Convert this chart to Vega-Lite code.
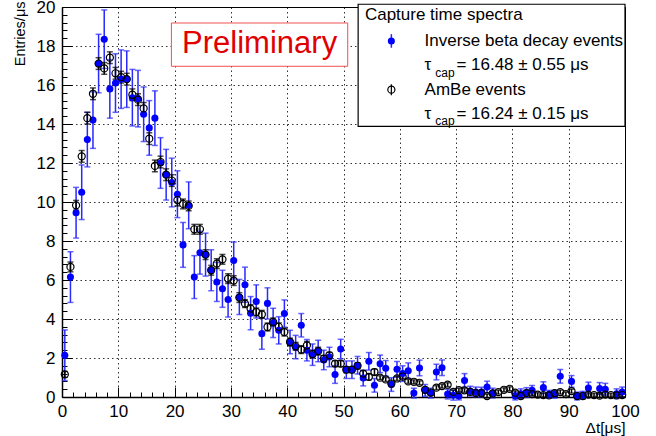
{
  "$schema": "https://vega.github.io/schema/vega-lite/v6.json",
  "width": 563,
  "height": 390,
  "autosize": {"type": "none"},
  "padding": {"left": 62, "top": 7, "right": 31, "bottom": 39},
  "background": "white",
  "config": {
    "view": {"stroke": "#000", "strokeWidth": 1},
    "axis": {"labelFont": "Liberation Sans", "titleFont": "Liberation Sans", "labelColor": "#000", "titleColor": "#000", "titleFontWeight": "normal", "tickColor": "#000", "domainColor": "#000"}
  },
  "resolve": {"axis": {"x": "independent", "y": "independent"}},
  "datasets": {
    "ibd": [
      {"t":0.5,"v":2.14,"e":1.3},{"t":1.5,"v":6.15,"e":1.3},{"t":2.5,"v":9.45,"e":1.3},{"t":3.5,"v":10.5,"e":1.4},
      {"t":4.5,"v":13.2,"e":1.4},{"t":5.5,"v":14.2,"e":1.45},{"t":6.5,"v":17.1,"e":1.5},{"t":7.5,"v":18.35,"e":1.5},
      {"t":8.5,"v":15.8,"e":1.5},{"t":9.5,"v":16.1,"e":1.5},{"t":10.5,"v":16.3,"e":1.5},{"t":11.5,"v":16.3,"e":1.45},
      {"t":12.5,"v":15.35,"e":1.45},{"t":13.5,"v":15.3,"e":1.45},{"t":14.5,"v":14.5,"e":1.4},{"t":15.5,"v":13.8,"e":1.4},
      {"t":16.5,"v":14.3,"e":1.4},{"t":17.5,"v":12.0,"e":1.3},{"t":18.5,"v":11.4,"e":1.3},{"t":19.5,"v":11.0,"e":1.25},
      {"t":20.5,"v":10.4,"e":1.2},{"t":21.5,"v":7.8,"e":1.15},{"t":22.5,"v":9.83,"e":1.2},{"t":23.5,"v":6.15,"e":1.1},
      {"t":24.5,"v":7.4,"e":1.1},{"t":25.5,"v":7.3,"e":1.1},{"t":26.5,"v":6.5,"e":1.05},{"t":27.5,"v":5.9,"e":1.0},
      {"t":28.5,"v":5.55,"e":0.95},{"t":29.5,"v":5.0,"e":0.9},{"t":30.5,"v":7.0,"e":0.95},{"t":31.5,"v":5.13,"e":0.9},
      {"t":32.5,"v":5.76,"e":0.9},{"t":33.5,"v":4.3,"e":0.85},{"t":34.5,"v":4.9,"e":0.85},{"t":35.5,"v":3.25,"e":0.8},
      {"t":36.5,"v":4.8,"e":0.8},{"t":37.5,"v":3.8,"e":0.75},{"t":38.5,"v":3.42,"e":0.7},{"t":39.5,"v":4.28,"e":0.7},
      {"t":40.5,"v":2.82,"e":0.6},{"t":41.5,"v":2.56,"e":0.6},{"t":42.5,"v":3.68,"e":0.6},{"t":43.5,"v":2.4,"e":0.55},
      {"t":44.5,"v":2.17,"e":0.55},{"t":45.5,"v":2.36,"e":0.55},{"t":46.5,"v":1.9,"e":0.5},{"t":47.5,"v":2.05,"e":0.5},
      {"t":48.5,"v":1.15,"e":0.45},{"t":49.5,"v":2.46,"e":0.5},{"t":50.5,"v":1.4,"e":0.45},{"t":51.5,"v":1.4,"e":0.45},
      {"t":52.5,"v":1.63,"e":0.45},{"t":53.5,"v":0.97,"e":0.4},{"t":54.5,"v":1.83,"e":0.45},{"t":55.5,"v":0.6,"e":0.35},
      {"t":56.5,"v":1.7,"e":0.45},{"t":57.5,"v":1.47,"e":0.4},{"t":58.5,"v":0.64,"e":0.35},{"t":59.5,"v":1.42,"e":0.4},
      {"t":60.5,"v":1.2,"e":0.4},{"t":61.5,"v":1.35,"e":0.4},{"t":62.5,"v":0.2,"e":0.25},{"t":63.5,"v":1.49,"e":0.4},
      {"t":64.5,"v":0.34,"e":0.3},{"t":65.5,"v":0.2,"e":0.25},{"t":66.5,"v":1.28,"e":0.4},{"t":67.5,"v":1.5,"e":0.4},
      {"t":68.5,"v":0.15,"e":0.25},{"t":69.5,"v":0.09,"e":0.25},{"t":70.5,"v":0.05,"e":0.2},{"t":71.5,"v":0.85,"e":0.35},
      {"t":72.5,"v":0.3,"e":0.25},{"t":73.5,"v":0.26,"e":0.25},{"t":74.5,"v":0.25,"e":0.25},{"t":75.5,"v":0.51,"e":0.3},
      {"t":76.5,"v":0.2,"e":0.25},{"t":80.5,"v":0.05,"e":0.2},{"t":81.5,"v":0.17,"e":0.25},{"t":82.5,"v":0.23,"e":0.25},
      {"t":83.5,"v":0.34,"e":0.25},{"t":85.5,"v":0.48,"e":0.3},{"t":86.5,"v":0.14,"e":0.2},{"t":87.5,"v":0.14,"e":0.2},
      {"t":88.5,"v":1.06,"e":0.35},{"t":90.5,"v":0.8,"e":0.3},{"t":91.5,"v":0.05,"e":0.2},{"t":92.5,"v":0.09,"e":0.2},
      {"t":93.5,"v":0.46,"e":0.3},{"t":95.5,"v":0.44,"e":0.3},{"t":96.5,"v":0.4,"e":0.3},{"t":98.5,"v":0.17,"e":0.25},
      {"t":99.5,"v":0.26,"e":0.25}
    ],
    "ambe": [
      {"t":0.5,"v":1.16,"e":0.15},{"t":1.5,"v":6.67,"e":0.25},{"t":2.5,"v":9.83,"e":0.25},{"t":3.5,"v":12.34,"e":0.3},
      {"t":4.5,"v":14.3,"e":0.3},{"t":5.5,"v":15.55,"e":0.3},{"t":6.5,"v":17.1,"e":0.3},{"t":7.5,"v":16.85,"e":0.3},
      {"t":8.5,"v":17.4,"e":0.3},{"t":9.5,"v":16.6,"e":0.3},{"t":10.5,"v":16.4,"e":0.3},{"t":11.5,"v":16.3,"e":0.3},
      {"t":12.5,"v":15.5,"e":0.3},{"t":13.5,"v":15.25,"e":0.3},{"t":14.5,"v":14.8,"e":0.3},{"t":15.5,"v":13.25,"e":0.3},
      {"t":16.5,"v":11.85,"e":0.3},{"t":17.5,"v":12.05,"e":0.3},{"t":18.5,"v":11.4,"e":0.3},{"t":19.5,"v":11.1,"e":0.3},
      {"t":20.5,"v":10.1,"e":0.3},{"t":21.5,"v":9.9,"e":0.25},{"t":22.5,"v":9.8,"e":0.25},{"t":23.5,"v":8.6,"e":0.25},
      {"t":24.5,"v":8.6,"e":0.25},{"t":25.5,"v":7.3,"e":0.25},{"t":26.5,"v":6.5,"e":0.25},{"t":27.5,"v":6.84,"e":0.25},
      {"t":28.5,"v":7.06,"e":0.25},{"t":29.5,"v":6.07,"e":0.25},{"t":30.5,"v":5.97,"e":0.25},{"t":31.5,"v":5.1,"e":0.25},
      {"t":32.5,"v":4.79,"e":0.2},{"t":33.5,"v":4.53,"e":0.2},{"t":34.5,"v":4.36,"e":0.2},{"t":35.5,"v":4.24,"e":0.2},
      {"t":36.5,"v":3.59,"e":0.2},{"t":37.5,"v":3.85,"e":0.2},{"t":38.5,"v":3.6,"e":0.2},{"t":39.5,"v":3.33,"e":0.2},
      {"t":40.5,"v":2.82,"e":0.2},{"t":41.5,"v":2.6,"e":0.2},{"t":42.5,"v":2.43,"e":0.2},{"t":43.5,"v":2.65,"e":0.2},
      {"t":44.5,"v":2.2,"e":0.2},{"t":45.5,"v":2.35,"e":0.2},{"t":46.5,"v":1.97,"e":0.15},{"t":47.5,"v":2.14,"e":0.15},
      {"t":48.5,"v":1.71,"e":0.15},{"t":49.5,"v":1.71,"e":0.15},{"t":50.5,"v":1.4,"e":0.15},{"t":51.5,"v":1.4,"e":0.15},
      {"t":52.5,"v":1.6,"e":0.15},{"t":53.5,"v":1.2,"e":0.15},{"t":54.5,"v":1.03,"e":0.15},{"t":55.5,"v":1.28,"e":0.15},
      {"t":56.5,"v":0.99,"e":0.1},{"t":57.5,"v":0.9,"e":0.1},{"t":58.5,"v":0.69,"e":0.1},{"t":59.5,"v":0.95,"e":0.1},
      {"t":60.5,"v":1.05,"e":0.1},{"t":61.5,"v":0.8,"e":0.1},{"t":62.5,"v":0.78,"e":0.1},{"t":63.5,"v":0.73,"e":0.1},
      {"t":64.5,"v":0.37,"e":0.1},{"t":65.5,"v":0.23,"e":0.1},{"t":66.5,"v":0.48,"e":0.1},{"t":67.5,"v":0.56,"e":0.1},
      {"t":68.5,"v":0.63,"e":0.1},{"t":69.5,"v":0.26,"e":0.1},{"t":70.5,"v":0.35,"e":0.1},{"t":71.5,"v":0.34,"e":0.1},
      {"t":72.5,"v":0.26,"e":0.1},{"t":73.5,"v":0.2,"e":0.1},{"t":74.5,"v":0.2,"e":0.1},{"t":75.5,"v":0.05,"e":0.1},
      {"t":76.5,"v":0.18,"e":0.1},{"t":77.5,"v":0.25,"e":0.1},{"t":78.5,"v":0.37,"e":0.1},{"t":79.5,"v":0.42,"e":0.1},
      {"t":80.5,"v":0.22,"e":0.1},{"t":81.5,"v":0.05,"e":0.1},{"t":82.5,"v":0.2,"e":0.1},{"t":83.5,"v":0.15,"e":0.1},
      {"t":84.5,"v":0.12,"e":0.1},{"t":85.5,"v":0.1,"e":0.1},{"t":86.5,"v":0.08,"e":0.1},{"t":87.5,"v":0.2,"e":0.1},
      {"t":88.5,"v":0.25,"e":0.1},{"t":89.5,"v":0.15,"e":0.1},{"t":90.5,"v":0.3,"e":0.1},{"t":91.5,"v":0.05,"e":0.1},
      {"t":92.5,"v":0.05,"e":0.1},{"t":93.5,"v":0.12,"e":0.1},{"t":94.5,"v":0.1,"e":0.1},{"t":95.5,"v":0.07,"e":0.1},
      {"t":96.5,"v":0.12,"e":0.1},{"t":97.5,"v":0.1,"e":0.1},{"t":98.5,"v":0.08,"e":0.1},{"t":99.5,"v":0.1,"e":0.1}
    ],
    "legbox": [{"t":52.6,"t2":100,"v":13.88,"v2":20.14}],
    "prelbox": [{"t":19.43,"t2":50.75,"v":16.96,"v2":19.18}],
    "prel": [{"t":35.1,"v":18.09,"label":"Preliminary"}],
    "legtext": [
      {"t":53.8,"v":19.57,"label":"Capture time spectra"},
      {"t":64.4,"v":18.26,"label":"Inverse beta decay events"},
      {"t":64.4,"v":17.01,"label":"τ"},
      {"t":70.05,"v":17.01,"label":"= 16.48 ± 0.55 μs"},
      {"t":64.4,"v":15.76,"label":"AmBe events"},
      {"t":64.4,"v":14.53,"label":"τ"},
      {"t":70.05,"v":14.53,"label":"= 16.24 ± 0.15 μs"}
    ],
    "legsub": [
      {"t":66.3,"v":16.62,"label":"cap"},
      {"t":66.3,"v":14.14,"label":"cap"}
    ],
    "legblue": [{"t":58.5,"v":18.26,"e":0.35}],
    "legblack": [{"t":58.5,"v":15.76,"e":0.28}]
  },
  "layer": [
    {
      "data": {"name": "ibd"},
      "mark": {"type": "errorbar", "ticks": true, "size": 6, "thickness": 1.5, "color": "#2828ff"},
      "encoding": {
        "x": {"field": "t", "type": "quantitative", "scale": {"domain": [0, 100], "nice": false, "zero": false},
          "axis": {"orient": "bottom", "values": [0,10,20,30,40,50,60,70,80,90,100], "ticks": false, "grid": true, "gridDash": [1.5, 3], "gridColor": "#000", "gridOpacity": 0.8, "domain": true, "domainWidth": 1.5, "labelFontSize": 17, "labelPadding": 6, "labelFlush": false, "labelOverlap": false, "title": "Δt[μs]", "titleFontSize": 15.5, "titleX": 563, "titleY": 30, "titleAlign": "right", "titleBaseline": "middle"}},
        "y": {"field": "v", "type": "quantitative", "scale": {"domain": [0, 20], "nice": false, "zero": false},
          "axis": {"orient": "left", "values": [0,2,4,6,8,10,12,14,16,18,20], "ticks": false, "grid": true, "gridDash": [1.5, 3], "gridColor": "#000", "gridOpacity": 0.8, "domain": true, "domainWidth": 1.5, "labelFontSize": 17, "labelPadding": 7, "labelFlush": false, "labelOverlap": false, "title": "Entries/μs", "titleFontSize": 14.5, "titleX": -42, "titleY": -6, "titleAngle": -90, "titleAlign": "right", "titleBaseline": "middle"}},
        "yError": {"field": "e"}
      }
    },
    {
      "data": {"name": "ambe"},
      "mark": {"type": "errorbar", "ticks": true, "size": 6, "thickness": 1.5, "color": "#000"},
      "encoding": {
        "x": {"field": "t", "type": "quantitative", "scale": {"domain": [0, 100], "nice": false, "zero": false},
          "axis": {"orient": "bottom", "values": [0,10,20,30,40,50,60,70,80,90,100], "ticks": true, "tickSize": -10, "tickWidth": 1, "labels": false, "grid": false, "domain": false, "title": null}},
        "y": {"field": "v", "type": "quantitative", "scale": {"domain": [0, 20], "nice": false, "zero": false},
          "axis": {"orient": "left", "values": [0,2,4,6,8,10,12,14,16,18,20], "ticks": true, "tickSize": -10, "tickWidth": 1, "labels": false, "grid": false, "domain": false, "title": null}},
        "yError": {"field": "e"}
      }
    },
    {
      "data": {"name": "ibd"},
      "mark": {"type": "point", "shape": "circle", "filled": true, "size": 50, "color": "#0000ff", "opacity": 1},
      "encoding": {
        "x": {"field": "t", "type": "quantitative", "scale": {"domain": [0, 100], "nice": false, "zero": false},
          "axis": {"orient": "bottom", "values": [0,2,4,6,8,12,14,16,18,22,24,26,28,32,34,36,38,42,44,46,48,52,54,56,58,62,64,66,68,72,74,76,78,82,84,86,88,92,94,96,98], "ticks": true, "tickSize": -5, "tickWidth": 1, "labels": false, "grid": false, "domain": false, "title": null}},
        "y": {"field": "v", "type": "quantitative", "scale": {"domain": [0, 20], "nice": false, "zero": false},
          "axis": {"orient": "left", "values": [0.4,0.8,1.2,1.6,2.4,2.8,3.2,3.6,4.4,4.8,5.2,5.6,6.4,6.8,7.2,7.6,8.4,8.8,9.2,9.6,10.4,10.8,11.2,11.6,12.4,12.8,13.2,13.6,14.4,14.8,15.2,15.6,16.4,16.8,17.2,17.6,18.4,18.8,19.2,19.6], "ticks": true, "tickSize": -5, "tickWidth": 1, "labels": false, "grid": false, "domain": false, "title": null}}
      }
    },
    {
      "data": {"name": "ambe"},
      "mark": {"type": "point", "shape": "circle", "filled": false, "size": 50, "stroke": "#000", "strokeWidth": 1.2, "opacity": 1},
      "encoding": {
        "x": {"field": "t", "type": "quantitative", "axis": null},
        "y": {"field": "v", "type": "quantitative", "axis": null}
      }
    },
    {
      "data": {"name": "prelbox"},
      "mark": {"type": "rect", "fill": "#fff", "stroke": "#f05050", "strokeWidth": 1},
      "encoding": {
        "x": {"field": "t", "type": "quantitative", "axis": null}, "x2": {"field": "t2"},
        "y": {"field": "v", "type": "quantitative", "axis": null}, "y2": {"field": "v2"}
      }
    },
    {
      "data": {"name": "prel"},
      "mark": {"type": "text", "font": "Liberation Sans", "fontSize": 31, "color": "#e00000", "align": "center", "baseline": "middle"},
      "encoding": {
        "x": {"field": "t", "type": "quantitative", "axis": null},
        "y": {"field": "v", "type": "quantitative", "axis": null},
        "text": {"field": "label"}
      }
    },
    {
      "data": {"name": "legbox"},
      "mark": {"type": "rect", "fill": "#fff", "stroke": "#000", "strokeWidth": 1.2},
      "encoding": {
        "x": {"field": "t", "type": "quantitative", "axis": null}, "x2": {"field": "t2"},
        "y": {"field": "v", "type": "quantitative", "axis": null}, "y2": {"field": "v2"}
      }
    },
    {
      "data": {"name": "legtext"},
      "mark": {"type": "text", "font": "Liberation Sans", "fontSize": 17, "color": "#000", "align": "left", "baseline": "middle"},
      "encoding": {
        "x": {"field": "t", "type": "quantitative", "axis": null},
        "y": {"field": "v", "type": "quantitative", "axis": null},
        "text": {"field": "label"}
      }
    },
    {
      "data": {"name": "legsub"},
      "mark": {"type": "text", "font": "Liberation Sans", "fontSize": 12, "color": "#000", "align": "left", "baseline": "middle"},
      "encoding": {
        "x": {"field": "t", "type": "quantitative", "axis": null},
        "y": {"field": "v", "type": "quantitative", "axis": null},
        "text": {"field": "label"}
      }
    },
    {
      "data": {"name": "legblue"},
      "mark": {"type": "errorbar", "ticks": false, "thickness": 1.5, "color": "#2828ff"},
      "encoding": {
        "x": {"field": "t", "type": "quantitative", "axis": null},
        "y": {"field": "v", "type": "quantitative", "axis": null},
        "yError": {"field": "e"}
      }
    },
    {
      "data": {"name": "legblue"},
      "mark": {"type": "point", "shape": "circle", "filled": true, "size": 50, "color": "#0000ff", "opacity": 1},
      "encoding": {
        "x": {"field": "t", "type": "quantitative", "axis": null},
        "y": {"field": "v", "type": "quantitative", "axis": null}
      }
    },
    {
      "data": {"name": "legblack"},
      "mark": {"type": "errorbar", "ticks": false, "thickness": 1.2, "color": "#000"},
      "encoding": {
        "x": {"field": "t", "type": "quantitative", "axis": null},
        "y": {"field": "v", "type": "quantitative", "axis": null},
        "yError": {"field": "e"}
      }
    },
    {
      "data": {"name": "legblack"},
      "mark": {"type": "point", "shape": "circle", "filled": false, "size": 50, "stroke": "#000", "strokeWidth": 1.2, "opacity": 1},
      "encoding": {
        "x": {"field": "t", "type": "quantitative", "axis": null},
        "y": {"field": "v", "type": "quantitative", "axis": null}
      }
    }
  ]
}
